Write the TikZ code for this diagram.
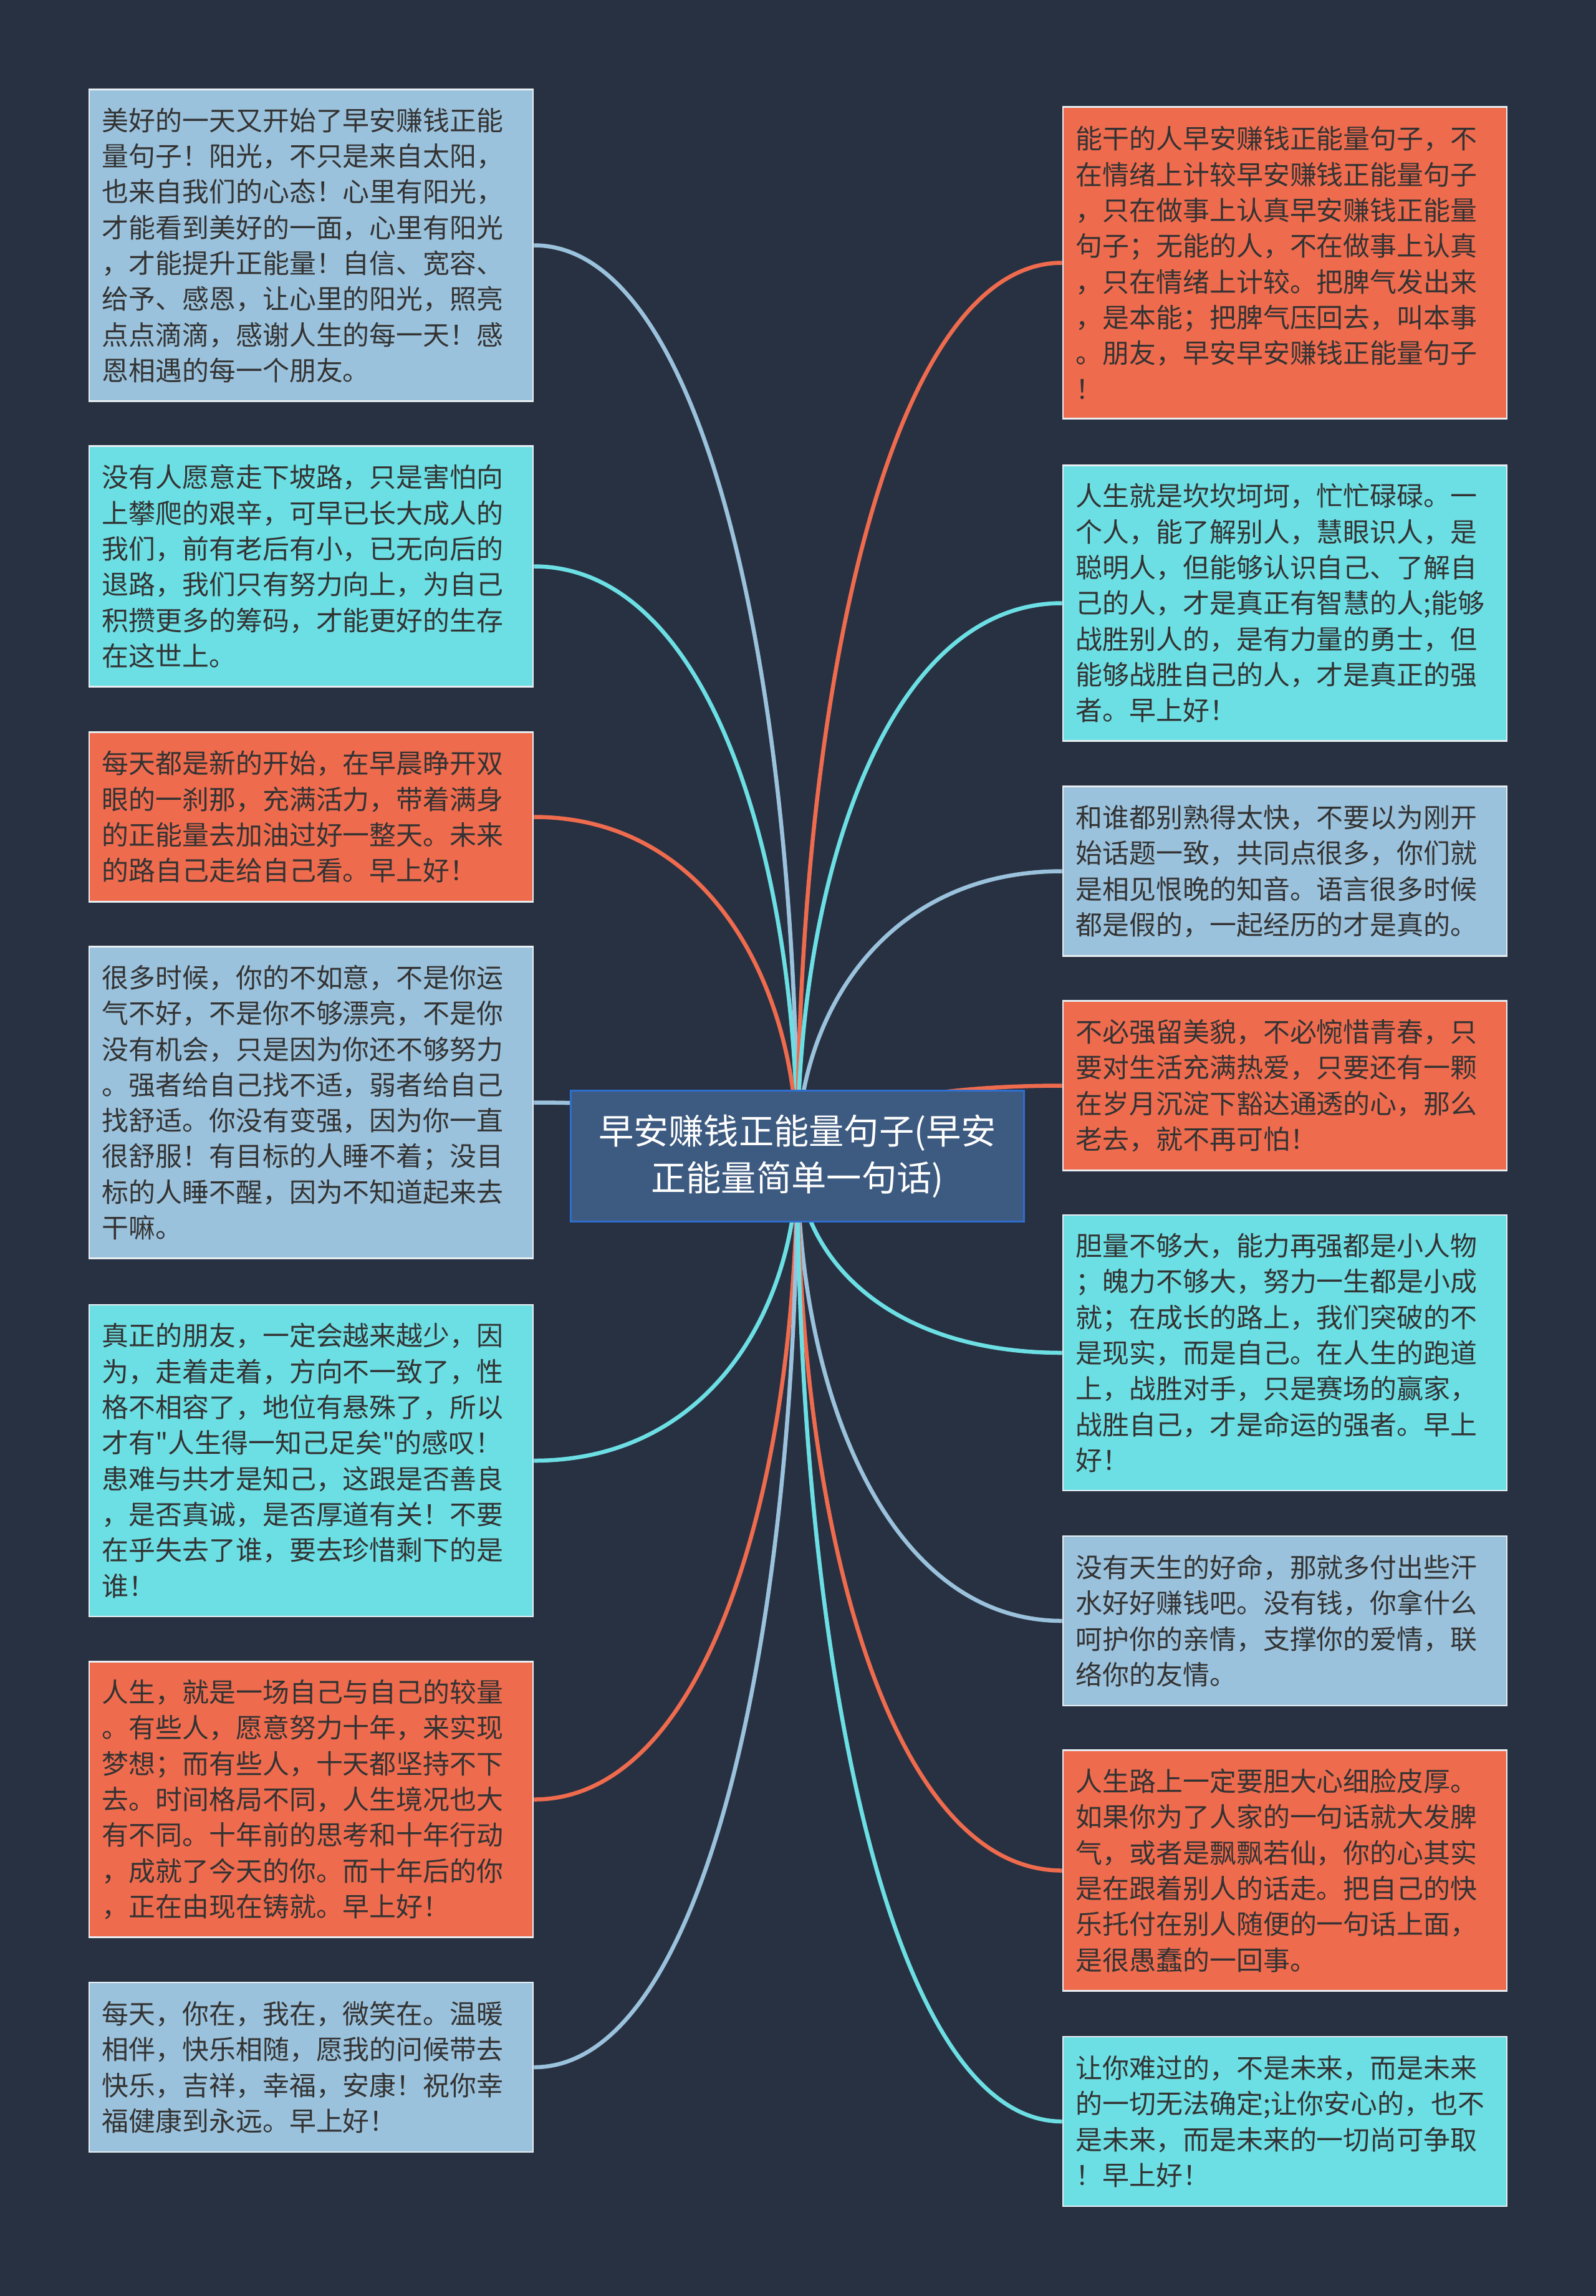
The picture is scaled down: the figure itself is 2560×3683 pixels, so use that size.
\documentclass[tikz,border=0pt]{standalone}
\usepackage{fontspec}
\setmainfont{Noto Sans CJK SC}[Ligatures=TeXOff]
\usetikzlibrary{calc}
\definecolor{bgc}{HTML}{283142}
\definecolor{cblue}{HTML}{9BC2DC}
\definecolor{ccyan}{HTML}{6CDFE4}
\definecolor{corange}{HTML}{EF6B4E}
\definecolor{cmain}{HTML}{3D5A80}
\definecolor{cmainb}{HTML}{2F6ECF}
\definecolor{bord}{HTML}{E8EEF2}
\definecolor{txt}{HTML}{333333}
\pgfdeclarelayer{bg}
\pgfsetlayers{bg,main}
\tikzset{
  leaf/.style={draw=bord, line width=0.025cm, minimum width=7.12cm, text width=6.70cm,
    inner xsep=0.21cm, inner ysep=0pt, align=left, text=txt,
    font=\fontsize{12.2}{16.3}\selectfont, anchor=center},
  blu/.style={leaf, fill=cblue},
  cya/.style={leaf, fill=ccyan},
  ora/.style={leaf, fill=corange},
  hfour/.style={minimum height=2.72cm},
  hsix/.style={minimum height=3.86cm},
  hseven/.style={minimum height=4.42cm},
  height/.style={minimum height=5.00cm},
  conn/.style={line width=0.065cm},
  root/.style={draw=cmainb, line width=0.03cm, fill=cmain, text=white, align=center,
    minimum width=7.26cm, minimum height=2.09cm, inner sep=0pt,
    font=\fontsize{16}{21.3}\selectfont}
}
\begin{document}
\begin{tikzpicture}[x=0.01cm, y=-0.01cm]
\begin{pgfonlayer}{bg}
\fill[bgc] (0,0) rectangle (2560,3683);
\end{pgfonlayer}
\useasboundingbox (0,0) rectangle (2560,3683);

\node[root] (m) at (1279,1854.5) {早安赚钱正能量句子(早安\\正能量简单一句话)};

% left column
\node[blu, height] (L1) at (499,393.5) {美好的一天又开始了早安赚钱正能\\量句子！阳光，不只是来自太阳，\\也来自我们的心态！心里有阳光，\\才能看到美好的一面，心里有阳光\\，才能提升正能量！自信、宽容、\\给予、感恩，让心里的阳光，照亮\\点点滴滴，感谢人生的每一天！感\\恩相遇的每一个朋友。};
\node[cya, hsix] (L2) at (499,908.5) {没有人愿意走下坡路，只是害怕向\\上攀爬的艰辛，可早已长大成人的\\我们，前有老后有小，已无向后的\\退路，我们只有努力向上，为自己\\积攒更多的筹码，才能更好的生存\\在这世上。};
\node[ora, hfour] (L3) at (499,1310.5) {每天都是新的开始，在早晨睁开双\\眼的一刹那，充满活力，带着满身\\的正能量去加油过好一整天。未来\\的路自己走给自己看。早上好！};
\node[blu, height] (L4) at (499,1768.5) {很多时候，你的不如意，不是你运\\气不好，不是你不够漂亮，不是你\\没有机会，只是因为你还不够努力\\。强者给自己找不适，弱者给自己\\找舒适。你没有变强，因为你一直\\很舒服！有目标的人睡不着；没目\\标的人睡不醒，因为不知道起来去\\干嘛。};
\node[cya, height] (L5) at (499,2343) {真正的朋友，一定会越来越少，因\\为，走着走着，方向不一致了，性\\格不相容了，地位有悬殊了，所以\\才有"人生得一知己足矣"的感叹！\\患难与共才是知己，这跟是否善良\\，是否真诚，是否厚道有关！不要\\在乎失去了谁，要去珍惜剩下的是\\谁！};
\node[ora, hseven] (L6) at (499,2886.5) {人生，就是一场自己与自己的较量\\。有些人，愿意努力十年，来实现\\梦想；而有些人，十天都坚持不下\\去。时间格局不同，人生境况也大\\有不同。十年前的思考和十年行动\\，成就了今天的你。而十年后的你\\，正在由现在铸就。早上好！};
\node[blu, hfour] (L7) at (499,3316) {每天，你在，我在，微笑在。温暖\\相伴，快乐相随，愿我的问候带去\\快乐，吉祥，幸福，安康！祝你幸\\福健康到永远。早上好！};

% right column
\node[ora, height] (R1) at (2061,421.5) {能干的人早安赚钱正能量句子，不\\在情绪上计较早安赚钱正能量句子\\，只在做事上认真早安赚钱正能量\\句子；无能的人，不在做事上认真\\，只在情绪上计较。把脾气发出来\\，是本能；把脾气压回去，叫本事\\。朋友，早安早安赚钱正能量句子\\！};
\node[cya, hseven] (R2) at (2061,967.5) {人生就是坎坎坷坷，忙忙碌碌。一\\个人，能了解别人，慧眼识人，是\\聪明人，但能够认识自己、了解自\\己的人，才是真正有智慧的人;能够\\战胜别人的，是有力量的勇士，但\\能够战胜自己的人，才是真正的强\\者。早上好！};
\node[blu, hfour] (R3) at (2061,1397.5) {和谁都别熟得太快，不要以为刚开\\始话题一致，共同点很多，你们就\\是相见恨晚的知音。语言很多时候\\都是假的，一起经历的才是真的。};
\node[ora, hfour] (R4) at (2061,1741.5) {不必强留美貌，不必惋惜青春，只\\要对生活充满热爱，只要还有一颗\\在岁月沉淀下豁达通透的心，那么\\老去，就不再可怕！};
\node[cya, hseven] (R5) at (2061,2170) {胆量不够大，能力再强都是小人物\\；魄力不够大，努力一生都是小成\\就；在成长的路上，我们突破的不\\是现实，而是自己。在人生的跑道\\上，战胜对手，只是赛场的赢家，\\战胜自己，才是命运的强者。早上\\好！};
\node[blu, hfour] (R6) at (2061,2600) {没有天生的好命，那就多付出些汗\\水好好赚钱吧。没有钱，你拿什么\\呵护你的亲情，支撑你的爱情，联\\络你的友情。};
\node[ora, hsix] (R7) at (2061,3000.5) {人生路上一定要胆大心细脸皮厚。\\如果你为了人家的一句话就大发脾\\气，或者是飘飘若仙，你的心其实\\是在跟着别人的话走。把自己的快\\乐托付在别人随便的一句话上面，\\是很愚蠢的一回事。};
\node[cya, hfour] (R8) at (2061,3403) {让你难过的，不是未来，而是未来\\的一切无法确定;让你安心的，也不\\是未来，而是未来的一切尚可争取\\！早上好！};

\begin{pgfonlayer}{bg}
\foreach \n/\c in {L1/cblue, L2/ccyan, L3/corange, L4/cblue, L5/ccyan, L6/corange, L7/cblue}{
  \draw[conn, draw=\c] (\n.east) .. controls ($(\n.east)!0.667!(m.center |- \n.east)$) and ($(m.center)!0.5!(m.center |- \n.east)$) .. (m.center);
}
\foreach \n/\c in {R1/corange, R2/ccyan, R3/cblue, R4/corange, R5/ccyan, R6/cblue, R7/corange, R8/ccyan}{
  \draw[conn, draw=\c] (\n.west) .. controls ($(\n.west)!0.667!(m.center |- \n.west)$) and ($(m.center)!0.5!(m.center |- \n.west)$) .. (m.center);
}
\end{pgfonlayer}
\end{tikzpicture}
\end{document}
